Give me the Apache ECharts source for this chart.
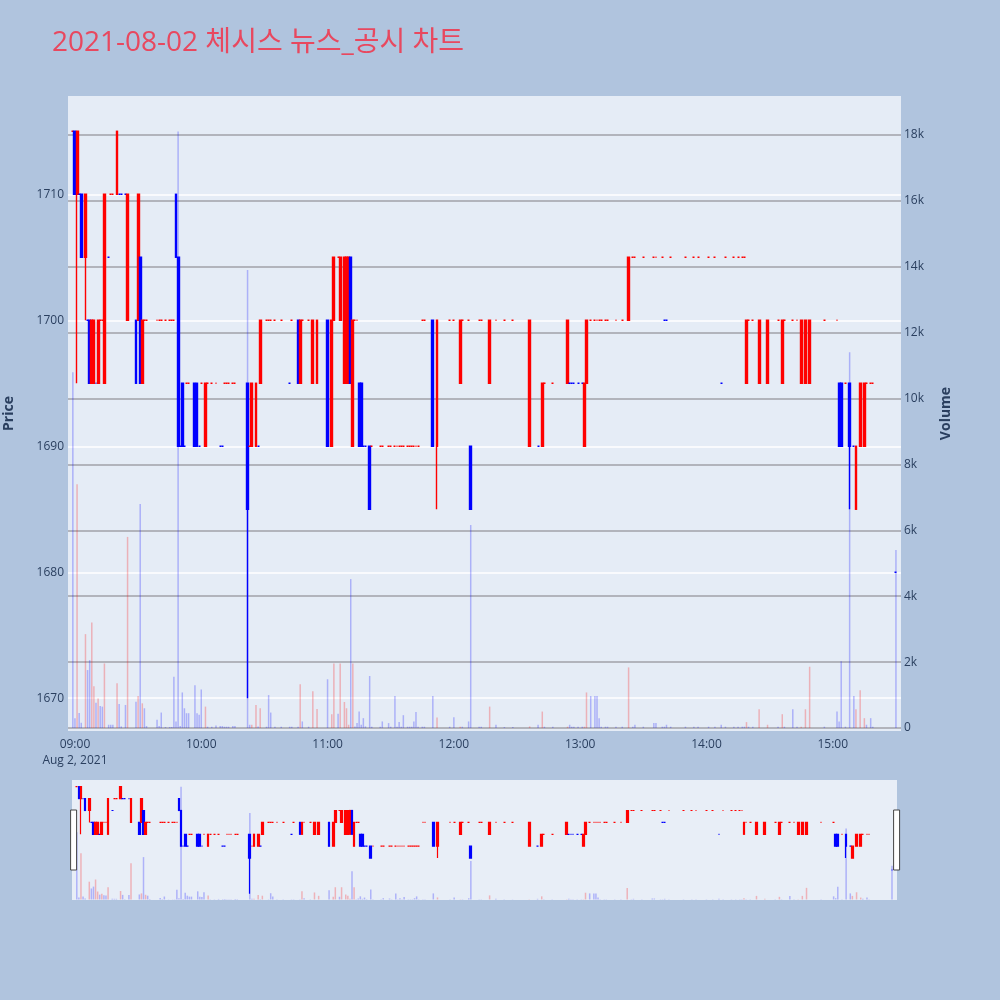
<!DOCTYPE html>
<html><head><meta charset="utf-8">
<script src="https://cdn.jsdelivr.net/npm/echarts@6/dist/echarts.min.js"></script>
<style>html,body{margin:0;padding:0;background:#B0C4DE}#c{width:1000px;height:1000px}</style>
</head><body><div id="c"></div>
<script>
const titleText = '2021-08-02 체시스 뉴스_공시 차트';
const times = [
  '08:59','09:00','09:01','09:02','09:03','09:05','09:06','09:07','09:08','09:09','09:10','09:11','09:12','09:13','09:14','09:16','09:17','09:18','09:20','09:21','09:22','09:24','09:25','09:29','09:30','09:31','09:32','09:33','09:34','09:39','09:40','09:41','09:43','09:45','09:46','09:47','09:48','09:49','09:50','09:51','09:52','09:53','09:54','09:57','09:58','09:59',
  '10:00','10:02','10:03','10:05','10:07','10:09','10:10','10:11','10:12','10:13','10:15','10:16','10:22','10:23','10:24','10:26','10:27','10:28','10:31','10:32','10:33','10:35','10:38','10:42','10:43','10:46','10:47','10:48','10:51','10:53','10:55',
  '11:00','11:02','11:03','11:05','11:06','11:08','11:09','11:10','11:11','11:12','11:13','11:14','11:15','11:16','11:17','11:18','11:20','11:21','11:25','11:26','11:29','11:30','11:32','11:33','11:34','11:35','11:36','11:38','11:39','11:40','11:41','11:42','11:43','11:45','11:46','11:50','11:52','11:58',
  '12:00','12:03','12:04','12:07','12:08','12:12','12:13','12:17','12:20','12:24','12:28','12:36','12:40','12:42','12:43','12:47','12:54','12:55','12:56','12:57','12:59',
  '13:01','13:02','13:03','13:05','13:07','13:08','13:09','13:10','13:12','13:13','13:17','13:20','13:23','13:25','13:26','13:30','13:35','13:36','13:39','13:40','13:41','13:43','13:50','13:54','13:56',
  '14:01','14:04','14:07','14:09','14:13','14:15','14:17','14:18','14:19','14:20','14:22','14:25','14:29','14:34','14:36','14:37','14:41','14:43','14:45','14:47','14:49','14:56',
  '15:02','15:03','15:04','15:06','15:08','15:10','15:11','15:13','15:15','15:16','15:18','15:19','15:30'
];
const opens = [
  1715,1715,1710,1710,1710,1705,1700,1700,1695,1695,1695,1695,1700,1700,1695,1705,1710,1710,1710,1710,1710,1710,1700,1700,1700,1705,1695,1700,1700,1700,1700,1700,1700,1700,1700,1700,1710,1705,1690,1695,1690,1695,1695,1695,1695,1690,
  1695,1690,1695,1695,1695,1690,1690,1695,1695,1695,1695,1695,1695,1690,1690,1690,1690,1695,1700,1700,1700,1700,1700,1695,1700,1700,1695,1700,1700,1695,1695,
  1700,1690,1700,1705,1700,1695,1695,1695,1705,1690,1700,1700,1695,1695,1690,1690,1690,1690,1690,1690,1690,1690,1690,1690,1690,1690,1690,1690,1690,1690,1690,1690,1690,1700,1700,1700,1690,1700,
  1700,1695,1700,1700,1690,1700,1700,1695,1700,1700,1700,1690,1690,1690,1695,1695,1695,1695,1695,1695,1695,
  1695,1690,1695,1700,1700,1700,1700,1700,1700,1700,1700,1700,1700,1705,1705,1705,1705,1705,1705,1700,1700,1705,1705,1705,1705,
  1705,1705,1695,1705,1705,1705,1705,1705,1695,1700,1700,1695,1695,1700,1695,1700,1700,1700,1695,1695,1695,1700,
  1700,1695,1695,1695,1695,1690,1685,1690,1690,1695,1695,1695,1680
];
const closes = [
  1715,1710,1715,1710,1705,1710,1700,1695,1700,1700,1695,1700,1700,1700,1710,1705,1710,1710,1715,1710,1710,1710,1710,1695,1710,1695,1700,1700,1700,1700,1700,1700,1700,1700,1700,1700,1705,1690,1690,1690,1690,1695,1695,1690,1690,1690,
  1695,1695,1695,1695,1695,1690,1690,1695,1695,1695,1695,1695,1685,1690,1695,1695,1690,1700,1700,1700,1700,1700,1700,1695,1700,1695,1700,1700,1700,1700,1700,
  1690,1700,1705,1705,1705,1705,1705,1705,1695,1700,1700,1700,1690,1690,1690,1690,1685,1690,1690,1690,1690,1690,1690,1690,1690,1690,1690,1690,1690,1690,1690,1690,1690,1700,1700,1690,1700,1700,
  1700,1700,1700,1700,1685,1700,1700,1700,1700,1700,1700,1700,1690,1695,1695,1695,1700,1695,1695,1695,1695,
  1695,1695,1700,1700,1700,1700,1700,1700,1700,1700,1700,1700,1705,1705,1705,1705,1705,1705,1705,1700,1700,1705,1705,1705,1705,
  1705,1705,1695,1705,1705,1705,1705,1705,1700,1700,1700,1700,1700,1700,1700,1700,1700,1700,1700,1700,1700,1700,
  1700,1690,1690,1695,1690,1690,1690,1695,1695,1695,1695,1695,1680
];
const lows = [
  1715,1710,1695,1710,1705,1700,1700,1695,1695,1695,1695,1695,1700,1700,1695,1705,1710,1710,1710,1710,1710,1710,1700,1695,1700,1695,1695,1700,1700,1700,1700,1700,1700,1700,1700,1700,1705,1690,1690,1690,1690,1695,1695,1690,1690,1690,
  1695,1690,1695,1695,1695,1690,1690,1695,1695,1695,1695,1695,1670,1690,1690,1690,1690,1695,1700,1700,1700,1700,1700,1695,1700,1695,1695,1700,1700,1695,1695,
  1690,1690,1700,1705,1700,1695,1695,1695,1695,1690,1700,1700,1690,1690,1690,1690,1685,1690,1690,1690,1690,1690,1690,1690,1690,1690,1690,1690,1690,1690,1690,1690,1690,1700,1700,1690,1685,1700,
  1700,1695,1700,1700,1685,1700,1700,1695,1700,1700,1700,1690,1690,1690,1695,1695,1695,1695,1695,1695,1695,
  1695,1690,1695,1700,1700,1700,1700,1700,1700,1700,1700,1700,1700,1705,1705,1705,1705,1705,1705,1700,1700,1705,1705,1705,1705,
  1705,1705,1695,1705,1705,1705,1705,1705,1695,1700,1700,1695,1695,1700,1695,1700,1700,1700,1695,1695,1695,1700,
  1700,1690,1690,1695,1685,1690,1685,1690,1690,1695,1695,1695,1680
];
const highs = [
  1715,1715,1715,1710,1710,1710,1700,1700,1700,1700,1695,1700,1700,1700,1710,1705,1710,1710,1715,1710,1710,1710,1710,1700,1710,1705,1700,1700,1700,1700,1700,1700,1700,1700,1700,1700,1710,1705,1690,1695,1690,1695,1695,1695,1695,1690,
  1695,1695,1695,1695,1695,1690,1690,1695,1695,1695,1695,1695,1695,1690,1695,1695,1690,1700,1700,1700,1700,1700,1700,1695,1700,1700,1700,1700,1700,1700,1700,
  1700,1700,1705,1705,1705,1705,1705,1705,1705,1700,1700,1700,1695,1695,1690,1690,1690,1690,1690,1690,1690,1690,1690,1690,1690,1690,1690,1690,1690,1690,1690,1690,1690,1700,1700,1700,1700,1700,
  1700,1700,1700,1700,1690,1700,1700,1700,1700,1700,1700,1700,1690,1695,1695,1695,1700,1695,1695,1695,1695,
  1695,1695,1700,1700,1700,1700,1700,1700,1700,1700,1700,1700,1705,1705,1705,1705,1705,1705,1705,1700,1700,1705,1705,1705,1705,
  1705,1705,1695,1705,1705,1705,1705,1705,1700,1700,1700,1700,1700,1700,1700,1700,1700,1700,1700,1700,1700,1700,
  1700,1695,1695,1695,1695,1690,1690,1695,1695,1695,1695,1695,1680
];
const volumes = [
  10800,300,7400,460,160,2850,1760,2060,3200,1270,770,900,670,650,1960,100,100,100,1360,730,50,700,5800,800,970,6800,750,600,60,250,60,470,30,30,30,1560,200,18100,60,1080,600,450,450,1300,450,400,
  1170,650,40,40,80,60,60,40,40,40,60,60,13900,100,100,700,50,600,40,1000,470,40,40,40,40,40,1330,200,40,1120,580,
  1480,420,1960,430,1960,790,600,100,4520,1960,50,150,500,100,300,50,1580,40,40,200,150,40,970,40,180,40,390,40,40,40,200,490,40,40,40,970,320,40,
  330,40,40,200,6160,40,40,650,100,30,30,50,100,500,40,40,40,100,40,40,40,
  40,40,1080,970,970,970,300,40,40,40,40,40,1840,40,100,40,150,150,40,40,100,40,40,40,40,
  40,40,100,40,40,40,40,40,180,40,40,570,100,40,420,40,570,40,40,570,1860,40,
  500,200,2030,40,11400,970,570,1150,300,100,300,40,5400
];
const priceTicks = [1670,1680,1690,1700,1710];
const volumeTicks = [0,2000,4000,6000,8000,10000,12000,14000,16000,18000];
const timeTicks = ['09:00','10:00','11:00','12:00','13:00','14:00','15:00'];
const dateLabel = 'Aug 2, 2021';

const UP = '#FF0000', DOWN = '#0000FF';
const toMin = s => { const [h, m] = s.split(':').map(Number); return (h - 9) * 60 + m; };
const fmtMin = v => { const h = 9 + Math.floor(v / 60), m = Math.round(v % 60); return String(h).padStart(2,'0') + ':' + String(m).padStart(2,'0'); };
const minutes = times.map(toMin);

const dirs = [];
let prevClose = null, prevDir = 1;
for (let i = 0; i < times.length; i++) {
  const o = opens[i], c = closes[i];
  let d;
  if (c > o) d = 1; else if (c < o) d = -1;
  else if (prevClose !== null && c !== prevClose) d = c > prevClose ? 1 : -1;
  else d = prevDir;
  dirs.push(d); prevDir = d; prevClose = c;
}
const candleData = minutes.map((m, i) => {
  const col = dirs[i] > 0 ? UP : DOWN;
  return { value: [m, opens[i], closes[i], lows[i], highs[i]], itemStyle: { color: col, color0: col, borderColor: col, borderColor0: col } };
});
const volData = minutes.map((m, i) => ({ value: [m, volumes[i]], itemStyle: { color: closes[i] > opens[i] ? 'rgba(255,0,0,0.25)' : 'rgba(0,0,255,0.25)' } }));

const xMin = -3.3, xMax = 392.4;
const pMin = 1667.4, pMax = 1717.8;
const vMin = -90, vMax = 19180;
const tickFont = { color: '#2a3f5f', fontSize: 12, fontFamily: 'Open Sans, Noto Sans, sans-serif' };

const chart = echarts.init(document.getElementById('c'), null, { renderer: 'canvas' });
chart.setOption({
  animation: false,
  backgroundColor: '#B0C4DE',
  title: { text: titleText, left: 47, top: 24, textStyle: { color: '#E8485F', fontSize: 28, fontWeight: 'normal', fontFamily: 'Open Sans, Noto Sans CJK KR, sans-serif' } },
  grid: [
    { left: 68, top: 96, width: 833, height: 635, show: true, backgroundColor: '#E5ECF6', borderWidth: 0, containLabel: false, outerBoundsMode: 'none' },
    { left: 72, top: 780, width: 825, height: 120, show: true, backgroundColor: '#E8EEF7', borderWidth: 0, containLabel: false, outerBoundsMode: 'none' }
  ],
  xAxis: [
    { type: 'value', gridIndex: 0, min: xMin, max: xMax,
      axisLine: { show: false }, splitLine: { show: false },
      axisTick: { show: false, customValues: timeTicks.map(toMin) },
      axisLabel: { ...tickFont, margin: 6, lineHeight: 16, customValues: timeTicks.map(toMin),
        formatter: v => Math.round(v) === 0 ? fmtMin(v) + '\n' + dateLabel : fmtMin(v) } },
    { type: 'value', gridIndex: 1, min: xMin, max: xMax, show: false }
  ],
  yAxis: [
    { type: 'value', gridIndex: 0, position: 'left', min: pMin, max: pMax,
      name: 'Price', nameLocation: 'middle', nameRotate: 90, nameGap: 52,
      nameTextStyle: { color: '#2a3f5f', fontSize: 14, fontWeight: 'bold', fontFamily: 'Open Sans, sans-serif' },
      axisLine: { show: false },
      axisTick: { show: false, customValues: priceTicks },
      axisLabel: { ...tickFont, margin: 4, customValues: priceTicks, formatter: v => String(v) },
      splitLine: { show: true, lineStyle: { color: '#FFFFFF', width: 1.5 } } },
    { type: 'value', gridIndex: 0, position: 'right', min: vMin, max: vMax,
      name: 'Volume', nameLocation: 'middle', nameRotate: 90, nameGap: 38,
      nameTextStyle: { color: '#2a3f5f', fontSize: 14, fontWeight: 'bold', fontFamily: 'Open Sans, sans-serif' },
      axisLine: { show: false },
      axisTick: { show: false, customValues: volumeTicks },
      axisLabel: { ...tickFont, margin: 3, customValues: volumeTicks, formatter: v => v === 0 ? '0' : (v / 1000) + 'k' },
      splitLine: { show: true, lineStyle: { color: '#A0A2A8', width: 1.5 } } },
    { type: 'value', gridIndex: 1, min: pMin, max: pMax, show: false, splitLine: { show: false } },
    { type: 'value', gridIndex: 1, min: vMin, max: vMax, show: false, splitLine: { show: false } }
  ],
  dataZoom: [{
    type: 'slider', xAxisIndex: 1, filterMode: 'none', start: 0, end: 100,
    left: 72, width: 825, top: 780, height: 120,
    showDetail: false, showDataShadow: false, brushSelect: false, moveHandleSize: 0,
    borderColor: 'transparent', backgroundColor: 'transparent', fillerColor: 'rgba(0,0,0,0)',
    handleIcon: 'path://M0,0H10V100H0Z', handleSize: '50%',
    handleStyle: { color: '#FFFFFF', borderColor: '#444444', borderWidth: 1 },
    emphasis: { handleStyle: { color: '#FFFFFF', borderColor: '#444444' } }
  }],
  series: [
    { type: 'candlestick', xAxisIndex: 0, yAxisIndex: 0, barWidth: 2.4,
      dimensions: ['t','open','close','low','high'], encode: { x: 't', y: ['open','close','low','high'] },
      itemStyle: { borderWidth: 1.4 }, data: candleData },
    { type: 'bar', xAxisIndex: 0, yAxisIndex: 1, barWidth: 1.5, data: volData },
    { type: 'candlestick', xAxisIndex: 1, yAxisIndex: 2, barWidth: 2.2,
      dimensions: ['t','open','close','low','high'], encode: { x: 't', y: ['open','close','low','high'] },
      itemStyle: { borderWidth: 1.2 }, data: candleData },
    { type: 'bar', xAxisIndex: 1, yAxisIndex: 3, barWidth: 1.5, data: volData }
  ]
});
</script></body></html>
